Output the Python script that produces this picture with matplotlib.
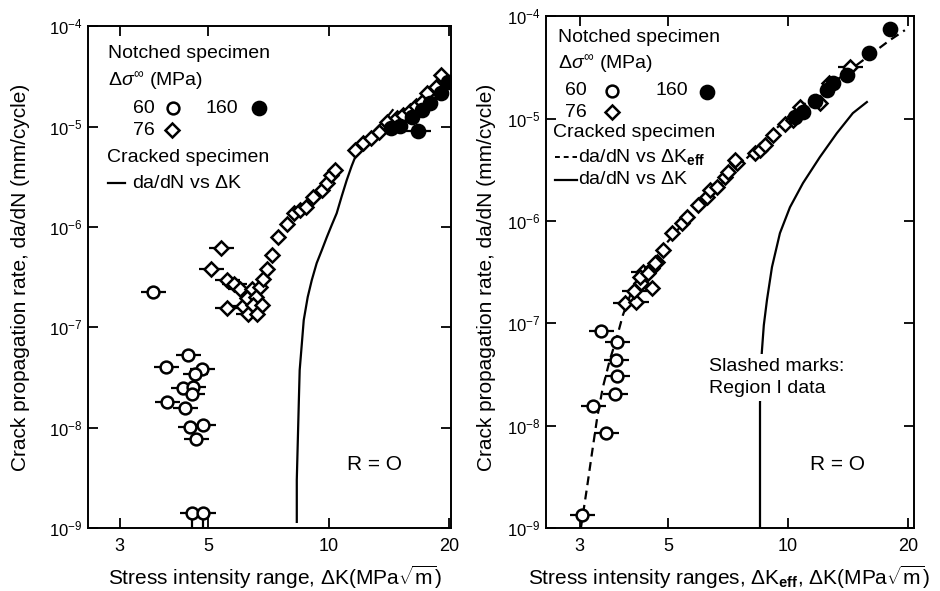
import matplotlib
matplotlib.use("Agg")
import matplotlib.pyplot as plt
from matplotlib.ticker import FixedLocator, FixedFormatter, NullLocator, LogFormatterMathtext

plt.rcParams['font.family'] = ['Liberation Sans', 'DejaVu Sans']
plt.rcParams['mathtext.fontset'] = 'custom'
plt.rcParams['mathtext.rm'] = 'Liberation Sans'
plt.rcParams['mathtext.it'] = 'Liberation Sans:italic'
plt.rcParams['mathtext.bf'] = 'Liberation Sans:bold'
plt.rcParams['axes.unicode_minus'] = False

# ---------------- Left panel data (da/dN vs dK) ----------------
L_c60_dk = [3.64, 4.45, 3.92, 4.82, 4.63, 4.32, 4.58, 4.55, 3.94, 4.37, 4.50, 4.85, 4.66, 4.55, 4.85]
L_c60_rate = [2.24e-7, 5.28e-8, 4.02e-8, 3.84e-8, 3.42e-8, 2.48e-8, 2.54e-8, 2.16e-8, 1.80e-8,
              1.57e-8, 1.01e-8, 1.06e-8, 7.69e-9, 1.41e-9, 1.41e-9]
L_below_dk = [4.55, 4.85]
L_below_lo = [1.0e-9, 1.0e-9]
L_below_hi = [1.3e-9, 1.3e-9]

L_d76s_dk = [5.37, 5.08, 5.56, 5.79, 6.00, 5.56, 6.10, 6.28]
L_d76s_rate = [6.15e-7, 3.80e-7, 2.95e-7, 2.69e-7, 2.40e-7, 1.55e-7, 1.63e-7, 1.35e-7]
L_d76_dk = [6.42, 6.73, 6.85, 7.00, 7.21, 7.46, 6.24, 6.57, 6.46, 6.80, 6.61,
            7.86, 8.18, 8.46, 8.76, 9.12, 9.61, 9.89, 10.12, 10.35,
            11.61, 12.16, 12.73, 13.33, 13.96, 14.78, 15.30, 15.93, 16.49, 17.07, 17.66, 18.60, 19.14]
L_d76_rate = [2.40e-7, 2.51e-7, 3.02e-7, 3.80e-7, 5.24e-7, 7.91e-7, 1.95e-7, 2.00e-7, 1.66e-7, 1.66e-7, 1.35e-7,
              1.07e-6, 1.37e-6, 1.47e-6, 1.57e-6, 1.98e-6, 2.33e-6, 2.73e-6, 3.28e-6, 3.68e-6,
              5.82e-6, 6.84e-6, 7.66e-6, 8.79e-6, 1.11e-5, 1.21e-5, 1.30e-5, 1.42e-5, 1.60e-5, 1.75e-5,
              2.15e-5, 2.47e-5, 3.25e-5]
L_f160_dk = [14.28, 15.04, 16.11, 17.07, 17.87, 19.14, 19.82]
L_f160_rate = [9.64e-6, 1.01e-5, 1.24e-5, 1.46e-5, 1.71e-5, 2.15e-5, 2.77e-5]
L_f160s_dk = [16.68]
L_f160s_rate = [9.0e-6]

L_curve_dk = [8.32, 8.32, 8.37, 8.42, 8.46, 8.56, 8.66, 8.86, 9.07, 9.33, 9.61, 9.89, 10.17,
              10.47, 10.78, 11.09, 11.41, 11.75, 12.30, 13.03, 13.80, 14.45]
L_curve_rate = [1.15e-9, 3.01e-9, 7.52e-9, 1.88e-8, 3.75e-8, 6.65e-8, 1.18e-7, 2.00e-7, 2.95e-7,
                4.36e-7, 5.87e-7, 7.91e-7, 1.04e-6, 1.37e-6, 2.03e-6, 2.92e-6, 4.04e-6, 5.43e-6,
                6.84e-6, 9.20e-6, 1.16e-5, 1.46e-5]

# ---------------- Right panel data (da/dN vs dKeff, dK) ----------------
R_c60_dk = [3.04, 3.49, 3.24, 3.68, 3.72, 3.70, 3.72, 3.39]
R_c60_rate = [1.34e-9, 8.47e-9, 1.55e-8, 2.04e-8, 3.05e-8, 4.38e-8, 6.55e-8, 8.39e-8]

R_d76s_dk = [3.90, 4.15, 4.11, 4.33, 14.31]
R_d76s_rate = [1.57e-7, 1.61e-7, 2.06e-7, 3.16e-7, 3.18e-5]
R_d76_dk = [4.28, 4.56, 4.56, 4.69, 4.25, 4.45, 4.64, 4.86, 5.11, 5.42, 5.58, 5.94, 6.26, 6.37,
            6.63, 6.95, 7.07, 7.45, 7.36, 8.26, 8.51, 8.75, 9.17, 9.83, 10.29, 10.72, 12.03, 12.67]
R_d76_rate = [2.47e-7, 2.21e-7, 3.46e-7, 3.97e-7, 2.82e-7, 3.09e-7, 3.87e-7, 5.19e-7, 7.60e-7, 9.53e-7,
              1.09e-6, 1.43e-6, 1.71e-6, 2.00e-6, 2.14e-6, 2.68e-6, 3.00e-6, 3.67e-6, 3.93e-6, 4.59e-6,
              4.91e-6, 5.50e-6, 6.89e-6, 8.81e-6, 9.64e-6, 1.30e-5, 1.41e-5, 2.22e-5]
R_f160_dk = [10.41, 10.91, 11.69, 12.53, 12.97, 14.06, 15.97, 18.03]
R_f160_rate = [1.03e-5, 1.16e-5, 1.48e-5, 1.89e-5, 2.22e-5, 2.65e-5, 4.35e-5, 7.46e-5]

R_eff_dk = [3.02, 3.13, 3.22, 3.32, 3.43, 3.57, 3.72, 3.85, 4.06, 4.38, 4.91, 5.68, 6.75, 8.03,
            10.1, 12.75, 16.06, 18.03, 19.67]
R_eff_rate = [1.0e-9, 2.51e-9, 5.40e-9, 1.21e-8, 2.38e-8, 4.38e-8, 7.33e-8, 1.20e-7, 2.11e-7, 3.31e-7,
              5.81e-7, 1.14e-6, 2.24e-6, 4.40e-6, 1.08e-5, 2.12e-5, 4.16e-5, 5.83e-5, 7.3e-5]
R_curve_dk = [8.51, 8.51, 8.55, 8.60, 8.70, 8.86, 9.12, 9.55, 10.12, 10.91, 12.03, 13.27, 14.56, 15.79]
R_curve_rate = [1.0e-9, 1.66e-8, 3.49e-8, 5.23e-8, 9.59e-8, 1.69e-7, 3.54e-7, 7.60e-7, 1.36e-6,
                2.34e-6, 4.20e-6, 7.19e-6, 1.13e-5, 1.45e-5]

x_ticks = [3, 5, 10, 20]
x_ticklabels = ['3', '5', '10', '20']
y_ticks = [1e-9, 1e-8, 1e-7, 1e-6, 1e-5, 1e-4]

FS = 14      # in-plot texts
FSL = 15     # axis labels
MS_C = 8.5
MS_D = 7.5
MEW = 1.8


def open_pts(ax, x, y, marker, ms, slashed=False, filled=False):
    if slashed:
        ax.plot(x, y, ls='none', marker='_', ms=18, mew=1.6, color='black', zorder=4)
    ax.plot(x, y, ls='none', marker=marker, ms=ms, mew=MEW, mec='black',
            mfc='black' if filled else 'white', zorder=5)


def style_axes(ax, xlim):
    ax.set_xscale('log')
    ax.set_yscale('log')
    ax.set_xlim(*xlim)
    ax.set_ylim(1e-9, 1e-4)
    ax.xaxis.set_major_locator(FixedLocator(x_ticks))
    ax.xaxis.set_major_formatter(FixedFormatter(x_ticklabels))
    ax.xaxis.set_minor_locator(NullLocator())
    ax.yaxis.set_major_locator(FixedLocator(y_ticks))
    ax.yaxis.set_major_formatter(LogFormatterMathtext())
    ax.yaxis.set_minor_locator(NullLocator())
    ax.tick_params(axis='both', which='major', direction='in', length=7, width=1.3,
                   top=True, right=True)
    ax.tick_params(axis='x', labelsize=13, pad=7)
    ax.tick_params(axis='y', labelsize=12, pad=4)
    for s in ax.spines.values():
        s.set_linewidth(1.4)


fig = plt.figure(figsize=(9.4, 5.91), dpi=100)
axL = fig.add_axes([0.0936, 0.1066, 0.386, 0.849])
axR = fig.add_axes([0.581, 0.1066, 0.391, 0.866])

# ---------------- Left panel ----------------
axL.plot(L_curve_dk, L_curve_rate, color='black', lw=1.6, zorder=3)
axL.vlines(L_below_dk, L_below_lo, L_below_hi, color='black', lw=1.6, zorder=3)
open_pts(axL, L_c60_dk, L_c60_rate, 'o', MS_C, slashed=True)
open_pts(axL, L_d76s_dk, L_d76s_rate, 'D', MS_D, slashed=True)
open_pts(axL, L_d76_dk, L_d76_rate, 'D', MS_D)
open_pts(axL, L_f160_dk, L_f160_rate, 'o', MS_C + 1, filled=True)
open_pts(axL, L_f160s_dk, L_f160s_rate, 'o', MS_C + 1, slashed=True, filled=True)
style_axes(axL, (2.5, 20.2))
axL.set_xlabel(r'Stress intensity range, $\Delta$K(MPa$\sqrt{\rm m}$)', fontsize=FSL)
axL.set_ylabel('Crack propagation rate, da/dN (mm/cycle)', fontsize=FSL)
axL.xaxis.label.set_verticalalignment('center')
axL.yaxis.label.set_verticalalignment('center')
axL.xaxis.set_label_coords(0.514, -0.098)
axL.yaxis.set_label_coords(-0.187, 0.5)

tL = axL.transAxes
axL.text(0.055, 0.946, 'Notched specimen', transform=tL, fontsize=FS, va='center')
axL.text(0.055, 0.892, r'$\Delta\sigma^{\infty}$ (MPa)', transform=tL, fontsize=FS, va='center')
axL.text(0.185, 0.837, '60', transform=tL, fontsize=FS, va='center', ha='right')
axL.plot([0.234], [0.837], transform=tL, marker='o', ms=MS_C, mew=MEW, mec='black', mfc='white', clip_on=False)
axL.text(0.413, 0.837, '160', transform=tL, fontsize=FS, va='center', ha='right')
axL.plot([0.471], [0.837], transform=tL, marker='o', ms=MS_C + 1, mew=MEW, mec='black', mfc='black', clip_on=False)
axL.text(0.185, 0.793, '76', transform=tL, fontsize=FS, va='center', ha='right')
axL.plot([0.231], [0.793], transform=tL, marker='D', ms=MS_D, mew=MEW, mec='black', mfc='white', clip_on=False)
axL.text(0.052, 0.739, 'Cracked specimen', transform=tL, fontsize=FS, va='center')
axL.plot([0.055, 0.102], [0.687, 0.687], transform=tL, color='black', lw=1.6)
axL.text(0.121, 0.687, r'da/dN vs $\Delta$K', transform=tL, fontsize=FS, va='center')
axL.text(0.79, 0.1275, 'R = O', transform=tL, fontsize=FSL, va='center', ha='center')

# ---------------- Right panel ----------------
axR.plot(R_eff_dk, R_eff_rate, color='black', lw=1.6, ls=(0, (4, 2.5)), zorder=3)
axR.plot(R_curve_dk, R_curve_rate, color='black', lw=1.6, zorder=2)
open_pts(axR, R_c60_dk, R_c60_rate, 'o', MS_C, slashed=True)
open_pts(axR, R_d76s_dk, R_d76s_rate, 'D', MS_D, slashed=True)
open_pts(axR, R_d76_dk, R_d76_rate, 'D', MS_D)
open_pts(axR, R_f160_dk, R_f160_rate, 'o', MS_C + 1, filled=True)
style_axes(axR, (2.47, 20.7))
axR.set_xlabel(r'Stress intensity ranges, $\Delta$K$_{\bf eff}$, $\Delta$K(MPa$\sqrt{\rm m}$)', fontsize=FSL)
axR.set_ylabel('Crack propagation rate, da/dN (mm/cycle)', fontsize=FSL)
axR.xaxis.label.set_verticalalignment('center')
axR.yaxis.label.set_verticalalignment('center')
axR.xaxis.set_label_coords(0.497, -0.096)
axR.yaxis.set_label_coords(-0.163, 0.49)

tR = axR.transAxes
axR.text(0.033, 0.959, 'Notched specimen', transform=tR, fontsize=FS, va='center')
axR.text(0.033, 0.908, r'$\Delta\sigma^{\infty}$ (MPa)', transform=tR, fontsize=FS, va='center')
axR.text(0.111, 0.854, '60', transform=tR, fontsize=FS, va='center', ha='right')
axR.plot([0.179], [0.854], transform=tR, marker='o', ms=MS_C, mew=MEW, mec='black', mfc='white', clip_on=False)
axR.text(0.386, 0.854, '160', transform=tR, fontsize=FS, va='center', ha='right')
axR.plot([0.4375], [0.852], transform=tR, marker='o', ms=MS_C + 1, mew=MEW, mec='black', mfc='black', clip_on=False)
axR.text(0.111, 0.8125, '76', transform=tR, fontsize=FS, va='center', ha='right')
axR.plot([0.179], [0.8125], transform=tR, marker='D', ms=MS_D, mew=MEW, mec='black', mfc='white', clip_on=False)
axR.text(0.019, 0.773, 'Cracked specimen', transform=tR, fontsize=FS, va='center')
axR.plot([0.024, 0.084], [0.725, 0.725], transform=tR, color='black', lw=1.4, ls=(0, (2.5, 2)))
axR.text(0.086, 0.725, r'da/dN vs $\Delta$K$_{\bf eff}$', transform=tR, fontsize=FS, va='center')
axR.plot([0.024, 0.084], [0.680, 0.680], transform=tR, color='black', lw=1.6)
axR.text(0.086, 0.680, r'da/dN vs $\Delta$K', transform=tR, fontsize=FS, va='center')
axR.text(0.443, 0.294, 'Slashed marks:\nRegion I data', transform=tR, fontsize=FS, va='center',
         ha='left', linespacing=1.4, zorder=6,
         bbox=dict(facecolor='white', edgecolor='none', pad=3))
axR.text(0.794, 0.125, 'R = O', transform=tR, fontsize=FSL, va='center', ha='center')

fig.savefig('out.png', dpi=100, facecolor='white')
